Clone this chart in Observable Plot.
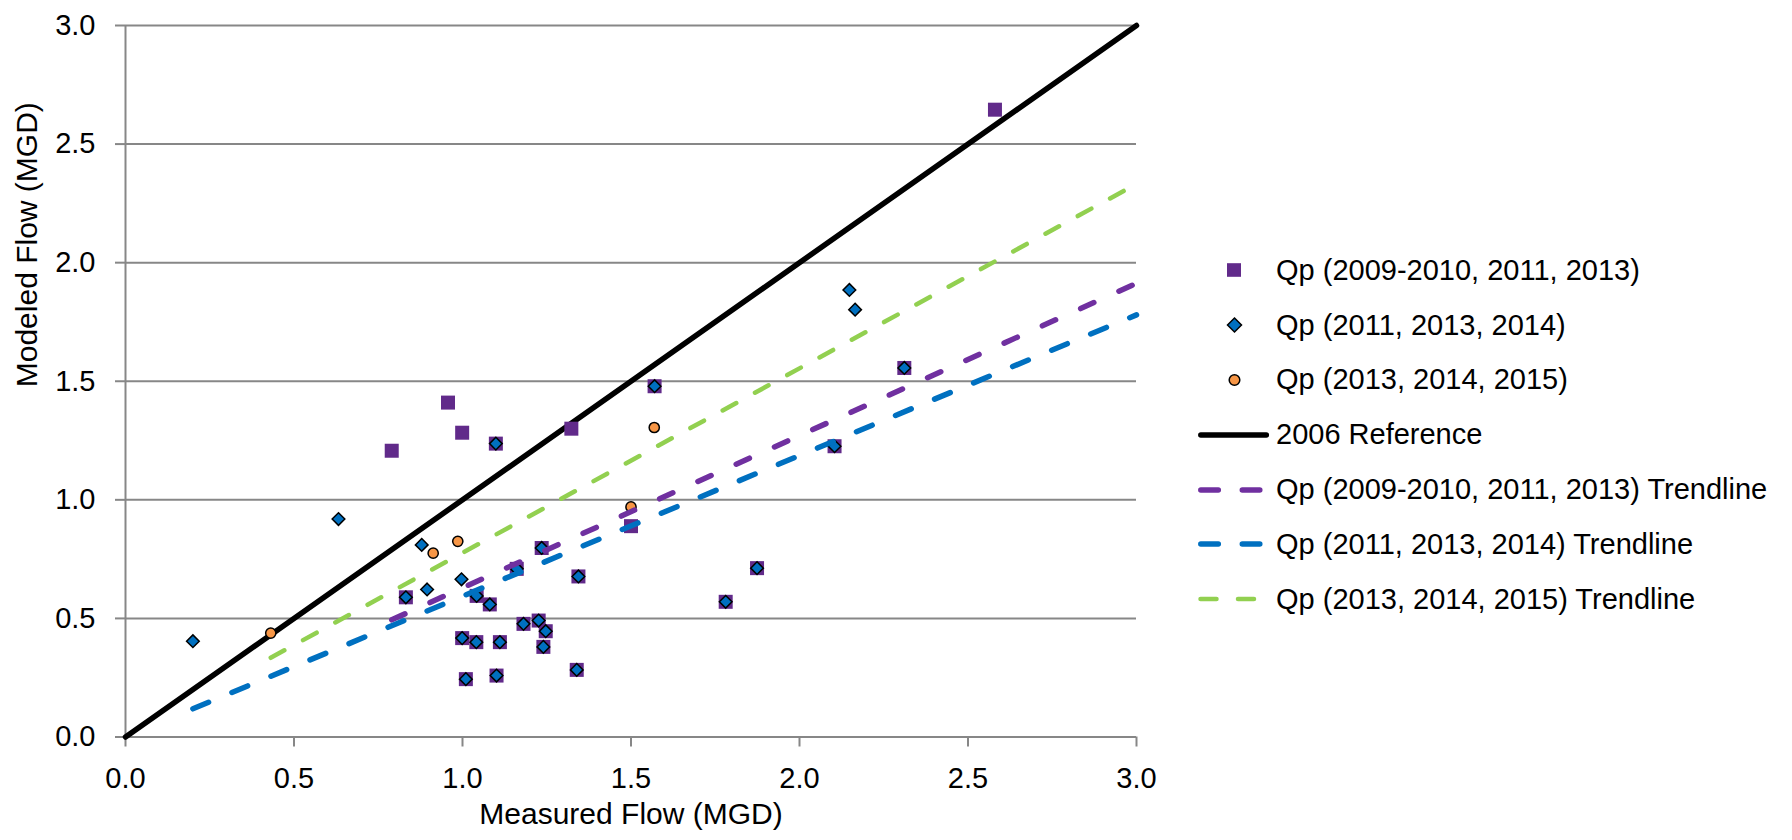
<!DOCTYPE html>
<html><head><meta charset="utf-8">
<script src="https://cdn.jsdelivr.net/npm/d3@7"></script>
<script src="https://cdn.jsdelivr.net/npm/@observablehq/plot@0.6"></script>
<style>
html,body{margin:0;padding:0;background:#fff;}
#wrap{position:relative;width:1792px;height:840px;font-family:"Liberation Sans",Arial,sans-serif;}
#wrap svg.plot{display:block;}
#legend{position:absolute;left:1190px;top:243px;}
.row{display:flex;align-items:center;height:54.8px;font-size:29px;color:#000;white-space:nowrap;}
.row svg{flex:none;width:86px;height:30px;}
</style></head><body><div id="wrap"></div>
<script>
// ---- data ----
const xTicks = [0, 0.5, 1.0, 1.5, 2.0, 2.5, 3.0];
const yTicks = [0, 0.5, 1.0, 1.5, 2.0, 2.5, 3.0];

// Qp (2009-2010, 2011, 2013)
const purpleX = [0.957, 0.999, 0.790, 1.323, 1.500, 2.580, 1.099, 0.832, 1.042, 1.081, 1.181, 1.226, 1.247, 1.240, 0.999, 1.041, 1.111, 1.010, 1.101, 1.339, 1.344, 1.235, 1.161, 1.570, 2.311, 2.104, 1.874, 1.781];
const purpleY = [1.410, 1.283, 1.207, 1.300, 0.889, 2.645, 1.237, 0.589, 0.595, 0.559, 0.477, 0.491, 0.446, 0.380, 0.417, 0.400, 0.400, 0.244, 0.259, 0.283, 0.677, 0.797, 0.709, 1.479, 1.556, 1.226, 0.712, 0.570];

// Qp (2011, 2013, 2014)
const blueX = [1.099, 0.832, 1.042, 1.081, 1.181, 1.226, 1.247, 1.240, 0.999, 1.041, 1.111, 1.010, 1.101, 1.339, 1.344, 1.235, 1.161, 1.570, 2.311, 2.104, 1.874, 1.781, 0.200, 0.632, 0.879, 0.895, 0.997, 2.148, 2.165];
const blueY = [1.237, 0.589, 0.595, 0.559, 0.477, 0.491, 0.446, 0.380, 0.417, 0.400, 0.400, 0.244, 0.259, 0.283, 0.677, 0.797, 0.709, 1.479, 1.556, 1.226, 0.712, 0.570, 0.404, 0.919, 0.810, 0.622, 0.665, 1.885, 1.802];

// Qp (2013, 2014, 2015)
const orangeX = [0.431, 0.913, 0.986, 1.500, 1.569];
const orangeY = [0.438, 0.775, 0.825, 0.970, 1.305];

// 2006 Reference
const refX = [0, 3];
const refY = [0, 3];

// Trendlines (end points)
const purpleTrendX = [0.790, 3.0];
const purpleTrendY = [0.494, 1.913];
const blueTrendX = [0.200, 3.0];
const blueTrendY = [0.119, 1.780];
const greenTrendX = [0.431, 3.0];
const greenTrendY = [0.334, 2.332];

const seriesNames = [
  "Qp (2009-2010, 2011, 2013)",
  "Qp (2011, 2013, 2014)",
  "Qp (2013, 2014, 2015)",
  "2006 Reference",
  "Qp (2009-2010, 2011, 2013) Trendline",
  "Qp (2011, 2013, 2014) Trendline",
  "Qp (2013, 2014, 2015) Trendline"
];
const xTitle = "Measured Flow (MGD)";
const yTitle = "Modeled Flow (MGD)";

// ---- build tables ----
const pts = (xs, ys) => xs.map((x, i) => ({x, y: ys[i]}));
const purple = pts(purpleX, purpleY);
const blue = pts(blueX, blueY);
const orange = pts(orangeX, orangeY);
const ref = pts(refX, refY);
const purpleTrend = pts(purpleTrendX, purpleTrendY);
const blueTrend = pts(blueTrendX, blueTrendY);
const greenTrend = pts(greenTrendX, greenTrendY);

const C = {
  square: "#612A8A", diamond: "#0070C0", circle: "#F79646",
  pTrend: "#7030A0", bTrend: "#0070C0", gTrend: "#92D050", grid: "#878787"
};
const fmt = d3.format(".1f");

const chart = Plot.plot({
  width: 1792, height: 840,
  marginLeft: 125, marginRight: 656, marginTop: 25, marginBottom: 103.5,
  x: {domain: [0, 3]},
  y: {domain: [0, 3]},
  style: {fontFamily: '"Liberation Sans", Arial, sans-serif', fontSize: "29px", color: "#000", background: "#fff"},
  marks: [
    Plot.gridY(yTicks, {stroke: C.grid, strokeOpacity: 1, strokeWidth: 2}),
    Plot.ruleX([0], {stroke: C.grid, strokeWidth: 2}),
    Plot.axisY(yTicks, {tickSize: 10, tickPadding: 20, tickFormat: fmt, stroke: C.grid, strokeWidth: 2, fill: "#000", fontSize: 29, label: null}),
    Plot.axisX(xTicks, {tickSize: 10, tickPadding: 20.5, tickFormat: fmt, stroke: C.grid, strokeWidth: 2, fill: "#000", fontSize: 29, label: null}),
    Plot.text([xTitle], {text: d => d, frameAnchor: "bottom", dy: 87, fontSize: 30, fill: "#000"}),
    Plot.text([yTitle], {text: d => d, frameAnchor: "left", rotate: -90, dx: -98.4, dy: 6, fontSize: 30, fill: "#000"}),
    Plot.line(ref, {x: "x", y: "y", stroke: "#000", strokeWidth: 5.5, strokeLinecap: "round"}),
    Plot.dot(purple, {x: "x", y: "y", symbol: "square", r: 7.9, fill: C.square, stroke: "none"}),
    Plot.dot(blue, {x: "x", y: "y", symbol: "diamond2", r: 5.7, fill: C.diamond, stroke: "#000", strokeWidth: 1.5}),
    Plot.dot(orange, {x: "x", y: "y", symbol: "circle", r: 5.1, fill: C.circle, stroke: "#000", strokeWidth: 1.5}),
    Plot.line(purpleTrend, {x: "x", y: "y", stroke: C.pTrend, strokeWidth: 5.5, strokeDasharray: "14.5 27.5", strokeLinecap: "round"}),
    Plot.line(blueTrend, {x: "x", y: "y", stroke: C.bTrend, strokeWidth: 5.5, strokeDasharray: "17 25.3", strokeLinecap: "round"}),
    Plot.line(greenTrend, {x: "x", y: "y", stroke: C.gTrend, strokeWidth: 4.5, strokeDasharray: "15.5 21.3", strokeLinecap: "round"})
  ]
});
chart.classList.add("plot");
const wrap = document.getElementById("wrap");
wrap.appendChild(chart);

// ---- legend (HTML, right side) ----
const symbolSvg = [
  `<rect x="37" y="8.2" width="14" height="13.6" fill="${C.square}"/>`,
  `<path d="M44.5,8 L51.5,15 L44.5,22 L37.5,15 Z" fill="${C.diamond}" stroke="#000" stroke-width="1.5"/>`,
  `<circle cx="44.5" cy="15" r="5.3" fill="${C.circle}" stroke="#000" stroke-width="1.5"/>`,
  `<line x1="10.8" y1="15" x2="76.3" y2="15" stroke="#000" stroke-width="5.5" stroke-linecap="round"/>`,
  `<line x1="10.8" y1="15" x2="70.3" y2="15" stroke="${C.pTrend}" stroke-width="5.5" stroke-dasharray="17.5 24" stroke-linecap="round"/>`,
  `<line x1="10.8" y1="15" x2="70.3" y2="15" stroke="${C.bTrend}" stroke-width="5.5" stroke-dasharray="17.5 24" stroke-linecap="round"/>`,
  `<line x1="10.5" y1="15" x2="64.5" y2="15" stroke="${C.gTrend}" stroke-width="4.5" stroke-dasharray="16 21.5" stroke-linecap="round"/>`
];
const legend = document.createElement("div");
legend.id = "legend";
seriesNames.forEach((name, i) => {
  const row = document.createElement("div");
  row.className = "row";
  row.innerHTML = `<svg viewBox="0 0 86 30">${symbolSvg[i]}</svg><span>${name}</span>`;
  legend.appendChild(row);
});
wrap.appendChild(legend);
</script>
</body></html>
